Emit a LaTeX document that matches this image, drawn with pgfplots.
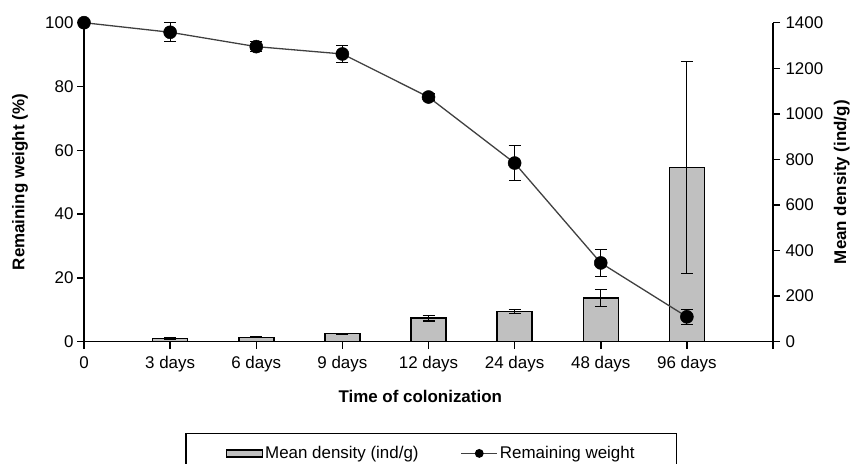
\documentclass[border=0pt]{standalone}
\usepackage{fontspec}
\setmainfont{Liberation Sans}
\usepackage{pgfplots}
\pgfplotsset{compat=1.18}
\definecolor{barfill}{HTML}{C0C0C0}
\definecolor{linegray}{HTML}{404040}
\begin{document}
\begin{tikzpicture}
\path[use as bounding box] (0,0) rectangle (853bp,464bp);
\pgfplotsset{
  common/.style={
    at={(84bp,122.3bp)}, anchor=south west,
    scale only axis, width=689bp, height=319bp,
    xmin=0, xmax=8,
    font=\fontsize{17}{20}\selectfont,
    /pgf/number format/assume math mode=true,
    /pgf/number format/1000 sep={},
    scaled ticks=false,
    axis line style={line width=1.5bp, black, -},
    tick align=outside,
    major tick length=7bp,
    tick style={line width=1.5bp, black},
    clip=false,
  }
}
\begin{axis}[common,
  ymin=0, ymax=1400,
  axis x line*=bottom, axis y line*=right,
  ytick={0,200,...,1400},
  xtick={0,1,...,8},
  xticklabels={0,3 days,6 days,9 days,12 days,24 days,48 days,96 days,{}},
  xticklabel style={yshift=-4bp},
  yticklabel style={xshift=2bp},
  ylabel={\bfseries Mean density (ind/g)},
  ylabel style={at={(axis description cs:1.100,0.5)}, anchor=center},
  xlabel={\bfseries Time of colonization},
  xlabel style={at={(axis description cs:0.488,-0.173)}, anchor=center},
]
\addplot[ybar, bar width=35bp, fill=barfill, draw=black, line width=1.5bp,
  error bars/.cd, y dir=both, y explicit,
  error bar style={line width=1.2bp, black},
  error mark options={rotate=90, mark size=6bp, line width=1.2bp, black}]
  coordinates {
  (1,13) +- (0,3)
  (2,19) +- (0,2)
  (3,35) +- (0,2)
  (4,103) +- (0,12)
  (5,133) +- (0,10)
  (6,192) +- (0,37)
  (7,765) +- (0,466)
  };
\end{axis}
\begin{axis}[common,
  ymin=0, ymax=100,
  axis y line*=left, axis x line=none,
  ytick={0,20,...,100},
  ylabel={\bfseries Remaining weight (\%)},
  ylabel style={at={(axis description cs:-0.093,0.5)}, anchor=center},
  legend columns=2,
  legend style={at={(axis description cs:0.504,-0.286)}, anchor=north,
    draw=black, line width=1.2bp, inner xsep=40bp, inner ysep=11bp,
    font=\fontsize{17}{20}\selectfont,
    /tikz/every even column/.append style={column sep=40bp}},
]
\addlegendimage{legend image code/.code={\draw[fill=barfill, draw=black, line width=1.2bp] (0bp,-3.5bp) rectangle (36bp,3.5bp);}}
\addlegendentry{Mean density (ind/g)}
\addlegendimage{legend image code/.code={\draw[linegray, line width=1.3bp] (0bp,0bp) -- (36bp,0bp); \fill[black] (18bp,0bp) circle (3.8bp);}}
\addlegendentry{Remaining weight}
\addplot[color=linegray, line width=1.3bp, mark=*, mark size=6.5bp,
  mark options={fill=black, draw=black, line width=0.5bp},
  error bars/.cd, y dir=both, y explicit,
  error bar style={line width=1.2bp, black},
  error mark options={rotate=90, mark size=6bp, line width=1.2bp, black}]
  coordinates {
  (0,100) +- (0,0)
  (1,97.0) +- (0,3.0)
  (2,92.5) +- (0,1.5)
  (3,90.2) +- (0,2.7)
  (4,76.7) +- (0,1.0)
  (5,56.0) +- (0,5.4)
  (6,24.7) +- (0,4.3)
  (7,7.8) +- (0,2.4)
  };
\end{axis}
\end{tikzpicture}
\end{document}
